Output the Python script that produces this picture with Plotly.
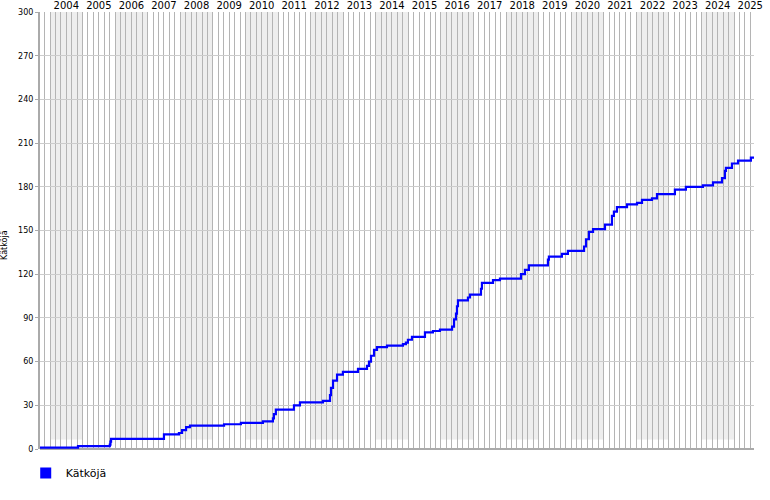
import plotly.graph_objects as go

# Step points: date where the cumulative count changes, and the new count
dates = [
    "2003-09-10", "2004-11-09", "2005-11-01", "2005-11-08", "2005-11-15",
    "2007-07-01", "2007-12-16", "2008-01-20", "2008-03-05", "2008-04-18",
    "2009-05-05", "2009-11-10", "2010-07-15", "2010-11-04", "2010-11-15",
    "2010-12-07", "2011-06-28", "2011-09-03", "2012-05-18", "2012-08-05",
    "2012-08-16", "2012-09-08", "2012-10-23", "2012-12-28", "2013-06-15",
    "2013-09-24", "2013-10-16", "2013-11-08", "2013-12-12", "2014-01-14",
    "2014-05-06", "2014-11-01", "2014-12-04", "2014-12-27", "2015-02-10",
    "2015-07-06", "2015-10-03", "2015-12-21", "2016-05-05", "2016-05-27",
    "2016-06-18", "2016-06-29", "2016-07-10", "2016-10-30", "2016-11-22",
    "2017-03-25", "2017-04-05", "2017-08-07", "2017-10-24", "2018-06-17",
    "2018-07-31", "2018-09-14", "2019-04-15", "2019-04-26", "2019-09-19",
    "2019-11-25", "2020-05-24", "2020-06-15", "2020-07-18", "2020-09-02",
    "2021-01-14", "2021-04-02", "2021-04-24", "2021-05-28", "2021-09-18",
    "2022-01-08", "2022-03-05", "2022-06-25", "2022-08-20", "2023-03-09",
    "2023-07-10", "2024-01-17", "2024-05-09", "2024-08-18", "2024-09-20",
    "2024-10-01", "2024-12-08", "2025-02-14", "2025-07-08", "2025-08-12",
]
counts = [
    1, 2, 3, 5, 7,
    10, 11, 13, 15, 16,
    17, 18, 19, 21, 24,
    27, 30, 32, 33, 37,
    42, 47, 51, 53, 55,
    57, 60, 64, 68, 70,
    71, 72, 73, 75, 77,
    80, 81, 82, 84, 89,
    93, 98, 102, 104, 106,
    110, 114, 116, 117, 120,
    123, 126, 130, 132, 134,
    136, 139, 144, 149, 151,
    154, 160, 163, 166, 168,
    169, 171, 172, 175, 178,
    180, 181, 183, 186, 191,
    193, 196, 198, 200, 200,
]

years = list(range(2004, 2026))
year_labels = [str(y) for y in years]
series_name = "Kätköjä"

x_start, x_end = "2003-09-10", "2025-08-12"

fig = go.Figure()

fig.add_trace(go.Scatter(
    x=dates, y=counts, mode="lines", line=dict(color="#0000ff", width=2.2, shape="hv"),
    showlegend=False, hoverinfo="x+y",
))
# legend entry (square swatch)
fig.add_trace(go.Scatter(
    x=[None], y=[None], mode="markers", name=series_name,
    marker=dict(symbol="square", size=11, color="#0000ff"),
))

# alternating year bands
for y in range(2003, 2026):
    if y % 2 == 0:
        fig.add_shape(type="rect", xref="x", yref="paper",
                      x0=f"{y}-01-01", x1=f"{y+1}-01-01", y0=0.022, y1=1,
                      fillcolor="#eeeeee", line_width=0, layer="below")

fig.add_annotation(text=series_name, textangle=-90, xref="paper", yref="paper",
                   x=-0.049, y=0.467, xanchor="center", yanchor="middle",
                   showarrow=False, font=dict(size=8, color="#000"))

fig.update_layout(
    width=770, height=500,
    margin=dict(l=40, r=16, t=12, b=40),
    paper_bgcolor="white", plot_bgcolor="white",
    font=dict(family="DejaVu Sans", color="#000"),
    xaxis=dict(
        type="date", range=[x_start, x_end], side="top",
        tickmode="array", tickvals=[f"{y}-07-01" for y in years], ticktext=year_labels,
        showgrid=False, ticks="", tickfont=dict(size=10), automargin=False,
        showline=False, zeroline=False,
        minor=dict(dtick="M2", tick0="2004-01-01", showgrid=True, gridcolor="#b4b4b4",
                   gridwidth=1, ticks=""),
    ),
    yaxis=dict(
        range=[0, 300], dtick=30, tick0=0, showgrid=True, gridcolor="#cccccc",
        showline=True, linecolor="#aaaaaa", linewidth=2,
        ticks="outside", ticklen=3, tickcolor="#aaaaaa", tickfont=dict(size=8),
        zeroline=True, zerolinecolor="#aaaaaa", zerolinewidth=2, automargin=False,
    ),
    legend=dict(orientation="h", x=-0.02, xanchor="left", y=-0.022, yanchor="top",
                font=dict(size=11), bgcolor="rgba(0,0,0,0)"),
    hovermode="closest",
)

fig.write_html("out.html", config={"displayModeBar": False},
               post_script="document.body.style.margin='0px';document.body.style.overflow='hidden';")
